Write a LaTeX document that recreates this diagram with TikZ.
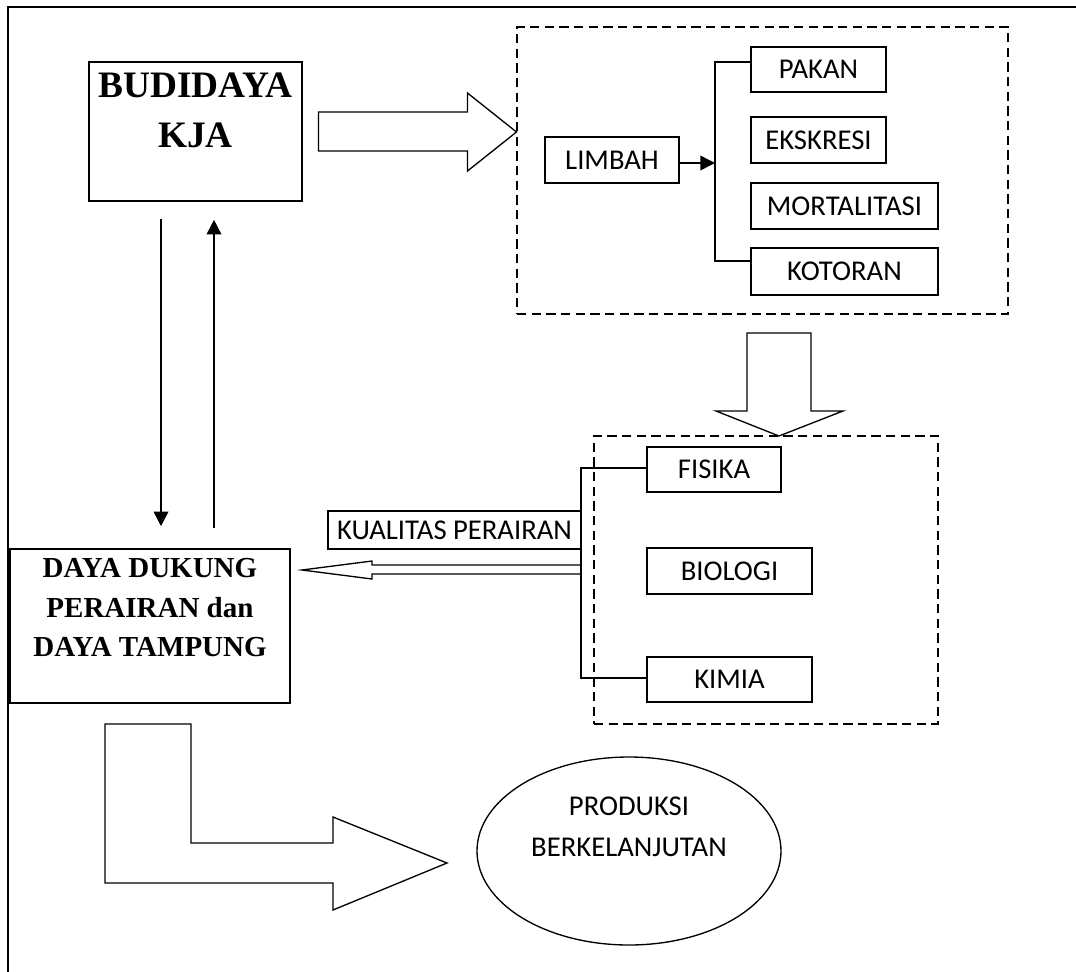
\documentclass[tikz,border=0pt]{standalone}
\usepackage{fontspec}
\setmainfont{Carlito}
\newfontfamily\tnr{Liberation Serif}
\usetikzlibrary{arrows.meta,shapes.geometric,calc}
\newcommand\calfont{\fontsize{21.5pt}{26pt}\selectfont}
\newcommand\budfont{\tnr\bfseries\fontsize{28pt}{37.5pt}\selectfont}
\newcommand\dayafont{\tnr\bfseries\fontsize{21.75pt}{29.7pt}\selectfont}
\newcommand\prodfont{\fontsize{21.5pt}{30.75pt}\selectfont}
\begin{document}
\begin{tikzpicture}[x=0.75pt,y=-0.75pt,
  frame/.style={line width=1.9pt},
  box/.style={draw,line width=1.2pt,inner sep=0pt,font=\calfont},
  ttext/.style={inner sep=0pt,align=center},
  dashbox/.style={draw,line width=1pt,dash pattern=on 7pt off 4pt,inner sep=0pt},
  blockarrow/.style={draw,line width=1pt,line join=miter},
  link/.style={line width=1.2pt},
  arr/.style={line width=1.2pt,-{Triangle[length=11pt,width=11pt]}}]
\useasboundingbox (0,0) rectangle (1076,972);
% outer frame
\draw[frame] (8,972) -- (8,7) -- (1076,7);

% BUDIDAYA KJA
\node[box,minimum width=159.75pt,minimum height=104.25pt] (bud) at (195.5,131.5) {};
\node[ttext,anchor=north,font=\budfont] (budtxt) at (195.5,73) {BUDIDAYA\\KJA};

% big right arrow
\draw[blockarrow] (318.5,112) -- (467.5,112) -- (467.5,93) -- (516.5,132) -- (467.5,171) -- (467.5,151) -- (318.5,151) -- cycle;

% limbah group
\node[dashbox,minimum width=368.25pt,minimum height=215.25pt] (grp1) at (762.5,170.5) {};
\node[box,minimum width=100.5pt,minimum height=34.5pt] (limbah) at (612,160) {LIMBAH};
\node[box,minimum width=101.25pt,minimum height=33.75pt] (pakan) at (818.5,69.5) {PAKAN};
\node[box,minimum width=101.25pt,minimum height=34.5pt] (ekskresi) at (818.5,140) {EKSKRESI};
\node[box,minimum width=140.25pt,minimum height=34.5pt] (mortalitasi) at (844.5,206) {MORTALITASI};
\node[box,minimum width=140.25pt,minimum height=35.25pt] (kotoran) at (844.5,271.5) {KOTORAN};
\coordinate (bt) at (715,62);
\coordinate (bb) at (715,261);
\draw[link] (pakan.west |- bt) -- (bt) -- (bb) -- (kotoran.west |- bb);
\draw[arr] ([yshift=-2.25pt]limbah.east) -- ([yshift=-2.25pt]limbah.east -| bt);

% down block arrow
\draw[blockarrow] (747,333) -- (811,333) -- (811,411) -- (843,411) -- (779,436) -- (716,411) -- (747,411) -- cycle;

% water quality group
\node[dashbox,minimum width=258pt,minimum height=216pt] (grp2) at (766,580) {};
\node[box,minimum width=100.5pt,minimum height=33.75pt] (fisika) at (714,469.5) {FISIKA};
\node[box,minimum width=123.75pt,minimum height=34.5pt] (biologi) at (729.5,571) {BIOLOGI};
\node[box,minimum width=123.75pt,minimum height=33.75pt] (kimia) at (729.5,679.5) {KIMIA};
\coordinate (ct) at (581,468);
\coordinate (cb) at (581,678);
\draw[link] (fisika.west |- ct) -- (ct) -- (cb) -- (kimia.west |- cb);
\node[box,minimum width=189.75pt,minimum height=28.5pt] (kualitas) at (454.5,530) {KUALITAS PERAIRAN};

% left thin block arrow
\draw[blockarrow] (581,565) -- (372,565) -- (372,561) -- (302,570) -- (372,579) -- (372,574) -- (581,574);

% DAYA DUKUNG box
\node[box,minimum width=210pt,minimum height=115.5pt] (daya) at (150,626) {};
\node[ttext,anchor=north,font=\dayafont] (dayatxt) at (150,558) {DAYA DUKUNG\\PERAIRAN dan\\DAYA TAMPUNG};

% vertical arrows
\draw[arr,shorten <=12.75pt,shorten >=16.5pt] (bud.south -| 161,0) -- (daya.north -| 161,0);
\draw[arr,shorten <=15pt,shorten >=13.5pt] (daya.north -| 214,0) -- (bud.south -| 214,0);

% L block arrow
\draw[blockarrow] (105,724) -- (191,724) -- (191,843) -- (333,843) -- (333,817) -- (447,863) -- (333,910) -- (333,883) -- (105,883) -- cycle;

% ellipse
\node[draw,ellipse,line width=1pt,minimum width=228pt,minimum height=141pt,inner sep=0pt] (prod) at (629,851) {};
\node[ttext,anchor=north,font=\prodfont] (prodtxt) at (629,797) {PRODUKSI\\BERKELANJUTAN};
\end{tikzpicture}
\end{document}
